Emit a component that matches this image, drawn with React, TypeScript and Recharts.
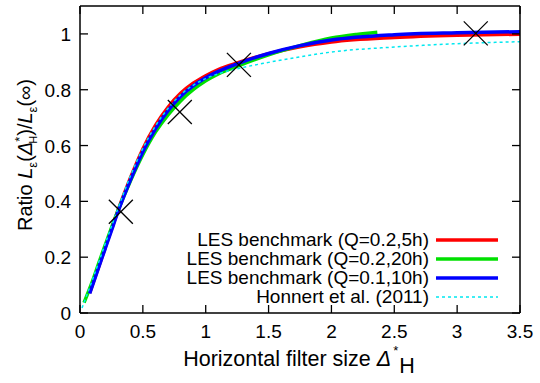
import { ComposedChart, Line, Scatter, XAxis, YAxis, Legend } from "recharts";

const FONT = "'Liberation Sans', Arial, Helvetica, sans-serif";

// LES benchmark curves and the Honnert et al. fit
const redX = [0.077, 0.1, 0.15, 0.2, 0.25, 0.3, 0.4, 0.5, 0.6, 0.7, 0.8, 0.9, 1.0, 1.1, 1.25, 1.5, 1.75, 2.0, 2.5, 3.0, 3.5];
const redY = [0.072, 0.102, 0.168, 0.234, 0.3, 0.365, 0.483, 0.588, 0.672, 0.737, 0.787, 0.823, 0.85, 0.872, 0.896, 0.929, 0.954, 0.971, 0.987, 0.995, 0.999];

const greenX = [0.032, 0.1, 0.15, 0.2, 0.25, 0.3, 0.4, 0.5, 0.6, 0.7, 0.8, 0.9, 1.0, 1.1, 1.25, 1.5, 1.75, 2.0, 2.2, 2.365];
const greenY = [0.037, 0.115, 0.18, 0.243, 0.305, 0.364, 0.472, 0.568, 0.648, 0.71, 0.76, 0.8, 0.832, 0.857, 0.884, 0.925, 0.958, 0.985, 0.998, 1.006];

const blueX = [0.077, 0.1, 0.15, 0.2, 0.25, 0.3, 0.4, 0.5, 0.6, 0.7, 0.8, 0.9, 1.0, 1.1, 1.25, 1.5, 1.75, 2.0, 2.5, 3.0, 3.5];
const blueY = [0.07, 0.1, 0.165, 0.23, 0.295, 0.36, 0.475, 0.578, 0.66, 0.725, 0.776, 0.814, 0.843, 0.866, 0.893, 0.93, 0.958, 0.978, 0.997, 1.004, 1.008];

const cyanX = [0.016, 0.1, 0.2, 0.3, 0.4, 0.5, 0.6, 0.7, 0.8, 0.9, 1.0, 1.1, 1.25, 1.5, 1.75, 2.0, 2.5, 3.0, 3.5];
const cyanY = [0.018, 0.12, 0.247, 0.372, 0.49, 0.59, 0.67, 0.733, 0.782, 0.816, 0.84, 0.857, 0.875, 0.898, 0.918, 0.935, 0.953, 0.965, 0.972];

// black crosses
const crossX = [0.325, 0.794, 1.264, 3.148];
const crossY = [0.363, 0.72, 0.889, 1.002];

const xTicks = [0, 0.5, 1, 1.5, 2, 2.5, 3, 3.5];
const yTicks = [0, 0.2, 0.4, 0.6, 0.8, 1];

const legendNames = ["LES benchmark (Q=0.2,5h)", "LES benchmark (Q=0.2,20h)", "LES benchmark (Q=0.1,10h)", "Honnert et al. (2011)"];
const legendColors = ["#ff0000", "#00e000", "#0000ff", "#00e8f0"];

const zip = (xs: number[], ys: number[]) => xs.map((x, i) => ({ x, y: ys[i] }));

const redData = zip(redX, redY);
const greenData = zip(greenX, greenY);
const blueData = zip(blueX, blueY);
const cyanData = zip(cyanX, cyanY);
const crossData = zip(crossX, crossY);

const BottomTick = ({ x, y, payload }: any) => (
  <g>
    <line x1={x} x2={x} y1={y} y2={y - 8} stroke="#000" strokeWidth={1.3} />
    <text x={x} y={y + 25} textAnchor="middle" fontSize={19} fontFamily={FONT} fill="#000">
      {String(payload.value)}
    </text>
  </g>
);

const TopTick = ({ x, y }: any) => <line x1={x} x2={x} y1={y} y2={y + 8} stroke="#000" strokeWidth={1.3} />;

const LeftTick = ({ x, y, payload }: any) => (
  <g>
    <line x1={x} x2={x + 8} y1={y} y2={y} stroke="#000" strokeWidth={1.3} />
    <text x={x - 9} y={y + 7} textAnchor="end" fontSize={19} fontFamily={FONT} fill="#000">
      {String(payload.value)}
    </text>
  </g>
);

const RightTick = ({ x, y }: any) => <line x1={x} x2={x - 8} y1={y} y2={y} stroke="#000" strokeWidth={1.3} />;

const CrossShape = ({ cx, cy }: any) => (
  <g stroke="#000" strokeWidth={1.3}>
    <line x1={cx - 12} y1={cy - 12} x2={cx + 12} y2={cy + 12} />
    <line x1={cx - 12} y1={cy + 12} x2={cx + 12} y2={cy - 12} />
  </g>
);

const YLabel = () => (
  <text transform="translate(32,155) rotate(-90)" textAnchor="middle" fontSize={20} fontFamily={FONT} fill="#000">
    {"Ratio "}
    <tspan fontStyle="italic">L</tspan>
    <tspan fontSize={13} dy={5}>ε</tspan>
    <tspan dy={-5}>(</tspan>
    <tspan fontStyle="italic">Δ</tspan>
    <tspan fontSize={13} dy={-8}>*</tspan>
    <tspan fontSize={11} dx={-7} dy={13}>H</tspan>
    <tspan dy={-5}>)/</tspan>
    <tspan fontStyle="italic">L</tspan>
    <tspan fontSize={13} dy={5}>ε</tspan>
    <tspan dy={-5}>(∞)</tspan>
  </text>
);

const XLabel = () => (
  <text x={299} y={366} textAnchor="middle" fontSize={21.5} fontFamily={FONT} fill="#000">
    {"Horizontal filter size "}
    <tspan fontStyle="italic">Δ</tspan>
    <tspan fontSize={13} dx={2} dy={-11}>*</tspan>
    <tspan dx={1} dy={18}>H</tspan>
  </text>
);

const renderLegend = () => (
  <div style={{ fontFamily: FONT, fontSize: 19, color: "#000" }}>
    {legendNames.map((name, i) => (
      <div key={name} style={{ display: "flex", justifyContent: "flex-end", alignItems: "center", height: 19 }}>
        <span style={{ whiteSpace: "nowrap", lineHeight: "19px" }}>{name}</span>
        <svg width={66} height={19} style={{ marginLeft: 3 }}>
          <line
            x1={4}
            x2={66}
            y1={10}
            y2={10}
            stroke={legendColors[i]}
            strokeWidth={i === 3 ? 1.5 : 3.5}
            strokeDasharray={i === 3 ? "3 3" : undefined}
          />
        </svg>
      </div>
    ))}
  </div>
);

export default function App() {
  return (
    <div style={{ position: "absolute", left: 0, top: 0, width: 540, height: 383, background: "#fff" }}>
      <ComposedChart width={540} height={383} margin={{ top: 0, right: 0, left: 0, bottom: 0 }}>
        <XAxis
          xAxisId={0}
          type="number"
          dataKey="x"
          domain={[0, 3.5]}
          ticks={xTicks}
          height={70}
          tickSize={0}
          tickMargin={0}
          tick={<BottomTick />}
          axisLine={{ stroke: "#000", strokeWidth: 1.5 }}
          tickLine={false}
          label={{ content: () => <XLabel /> }}
          allowDataOverflow
        />
        <XAxis
          xAxisId="top"
          orientation="top"
          type="number"
          dataKey="x"
          domain={[0, 3.5]}
          ticks={xTicks}
          height={6}
          tickSize={0}
          tickMargin={0}
          tick={<TopTick />}
          axisLine={{ stroke: "#000", strokeWidth: 1.5 }}
          tickLine={false}
          allowDataOverflow
        />
        <YAxis
          yAxisId={0}
          type="number"
          domain={[0, 1.1]}
          ticks={yTicks}
          width={80}
          tickSize={0}
          tickMargin={0}
          tick={<LeftTick />}
          axisLine={{ stroke: "#000", strokeWidth: 1.5 }}
          tickLine={false}
          label={{ content: () => <YLabel /> }}
          allowDataOverflow
        />
        <YAxis
          yAxisId="right"
          orientation="right"
          type="number"
          domain={[0, 1.1]}
          ticks={yTicks}
          width={20}
          tickSize={0}
          tickMargin={0}
          tick={<RightTick />}
          axisLine={{ stroke: "#000", strokeWidth: 1.5 }}
          tickLine={false}
          allowDataOverflow
        />
        <Line data={redData} dataKey="y" type="monotone" stroke="#ff0000" strokeWidth={3.5} dot={false} isAnimationActive={false} />
        <Line data={greenData} dataKey="y" type="monotone" stroke="#00e000" strokeWidth={3.5} dot={false} isAnimationActive={false} />
        <Line data={blueData} dataKey="y" type="monotone" stroke="#0000ff" strokeWidth={3.5} dot={false} isAnimationActive={false} />
        <Line data={cyanData} dataKey="y" type="monotone" stroke="#00e8f0" strokeWidth={1.5} strokeDasharray="3 3" dot={false} isAnimationActive={false} />
        <Scatter data={crossData} dataKey="y" shape={<CrossShape />} isAnimationActive={false} />
        <Legend
          layout="horizontal"
          verticalAlign="middle"
          align="center"
          content={renderLegend}
          wrapperStyle={{ position: "absolute", left: 100, top: 230, width: 398 }}
        />
      </ComposedChart>
    </div>
  );
}
